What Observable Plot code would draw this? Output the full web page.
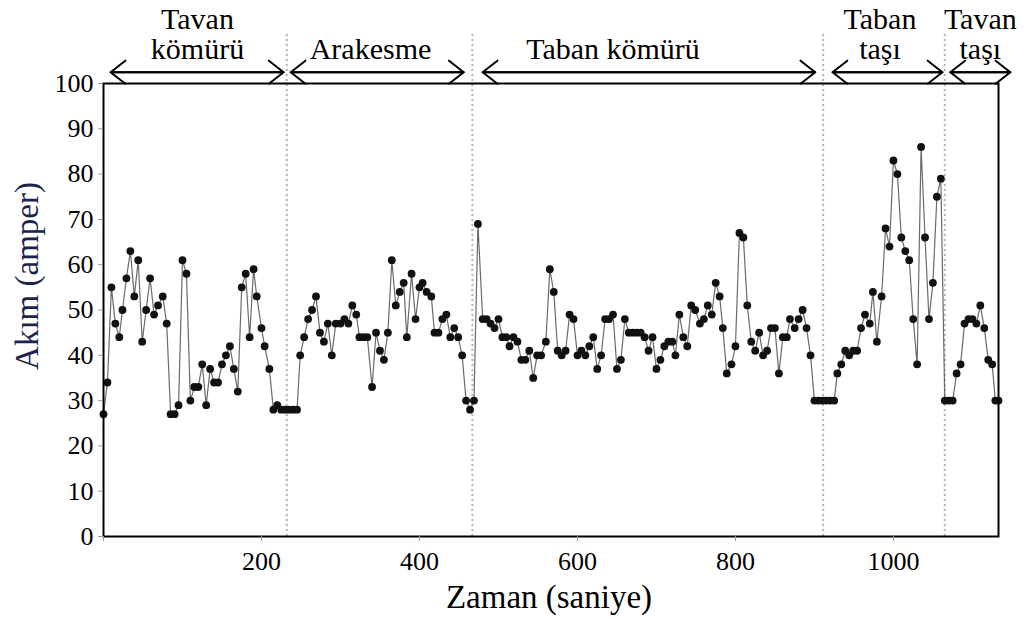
<!DOCTYPE html>
<html><head><meta charset="utf-8">
<script src="https://cdn.jsdelivr.net/npm/d3@7"></script>
<script src="https://cdn.jsdelivr.net/npm/@observablehq/plot@0.6"></script>
<style>body{margin:0;background:#fff}</style>
</head><body><div id="chart"></div>
<script>
// Time (s) and current (A)
const time = [
  0,5,10,15,20,24,29,34,39,44,49,54,59,64,69,75,80,85,90,95,100,105,110,115,120,125,130,135,140,145,150,155,160,165,170,175,180,185,190,194,200,204,210,215,220,225,230,235,240,245,
  249,254,259,264,269,274,279,284,289,294,300,305,310,315,320,324,329,334,340,345,350,355,360,365,370,375,380,384,390,395,400,404,409,415,419,424,429,434,439,444,449,454,459,464,469,
  474,480,485,490,495,500,505,510,514,519,524,529,534,539,544,549,554,560,565,570,575,580,585,590,595,600,605,610,615,620,625,630,635,640,645,650,655,660,665,670,675,680,685,690,695,700,705,710,715,720,724,729,734,739,744,749,755,760,765,770,775,780,784,789,795,800,805,810,815,820,825,830,835,840,845,850,855,860,865,869,875,880,885,890,895,900,905,910,915,920,925,
  929,934,939,944,949,954,959,964,970,974,979,985,990,995,1000,1005,1010,1015,1020,1025,1030,1035,1040,1045,1050,1055,1060,
  1065,1070,1075,1080,1085,1090,1095,1100,1105,1110,1115,1120,1125,1129,1133
];
const current = [
  27,34,55,47,44,50,57,63,53,61,43,50,57,49,51,53,47,27,27,29,61,58,30,33,33,38,29,37,34,34,38,40,42,37,32,55,58,44,59,53,46,42,37,28,29,28,28,28,28,28,
  40,44,48,50,53,45,43,47,40,47,47,48,47,51,49,44,44,44,33,45,41,39,45,61,51,54,56,44,58,48,55,56,54,53,45,45,48,49,44,46,44,40,30,28,30,
  69,48,48,47,46,48,44,44,42,44,43,39,39,41,35,40,40,43,59,54,41,40,41,49,48,40,41,40,42,44,37,40,48,48,49,37,39,48,45,45,45,45,44,41,44,37,39,42,43,43,40,49,44,42,51,50,47,48,51,49,56,53,46,36,38,42,67,66,51,43,41,45,40,41,46,46,36,44,44,48,46,48,50,46,40,30,30,30,30,30,30,
  36,38,41,40,41,41,46,49,47,54,43,53,68,64,83,80,66,63,61,48,38,86,66,48,56,75,79,
  30,30,30,36,38,47,48,48,47,51,46,39,38,30,30
];
const boundaries = [232, 467, 911, 1065];
const regionLabels = ["Tavan\nkömürü", "Arakesme", "Taban kömürü", "Taban\ntaşı", "Tavan\ntaşı"];
const regionCenters = [119, 338, 645, 983, 1110];
const arrowStarts = [9, 237, 480, 923, 1072];
const arrowEnds = [228, 456, 901, 1062, 1148];
const xTicks = [0, 200, 400, 600, 800, 1000];
const yTicks = [0, 10, 20, 30, 40, 50, 60, 70, 80, 90, 100];

const data = time.map((t, i) => ({t, a: current[i]}));
const arrows = arrowStarts.map((s, i) => ({s, e: arrowEnds[i]}));
const regions = regionLabels.map((l, i) => ({l, x: regionCenters[i]}));

const chart = Plot.plot({
  width: 1030, height: 619,
  marginTop: 83, marginBottom: 83, marginLeft: 103, marginRight: 32,
  style: {fontFamily: "'Liberation Serif', 'Times New Roman', serif", fontSize: "26px", color: "#000", background: "#fff", overflow: "visible"},
  x: {domain: [0, 1133]},
  y: {domain: [0, 100]},
  marks: [
    Plot.ruleX(boundaries, {y1: 0, y2: 111.5, stroke: "#b4b4b4", strokeWidth: 2, strokeDasharray: "2,3"}),
    Plot.line(data, {x: "t", y: "a", stroke: "#6a6a6a", strokeWidth: 1.2}),
    Plot.dot(data, {x: "t", y: "a", r: 3.9, fill: "#111", stroke: "none"}),
    Plot.frame({stroke: "#000", strokeWidth: 2}),
    Plot.axisX(xTicks, {tickSize: 5, tickPadding: 10, stroke: "#999", fill: "#000", tickFormat: d => d === 0 ? "" : String(d), label: null, fontSize: 26}),
    Plot.axisY(yTicks, {tickSize: 5, tickPadding: 5, stroke: "#999", fill: "#000", label: null, fontSize: 26}),
    Plot.arrow(arrows, {x1: "s", x2: "e", y1: 102.5, y2: 102.5, stroke: "#000", strokeWidth: 2, headAngle: 76, headLength: 14}),
    Plot.arrow(arrows, {x1: "e", x2: "s", y1: 102.5, y2: 102.5, stroke: "#000", strokeWidth: 2, headAngle: 76, headLength: 14}),
    Plot.text(regions, {x: "x", y: 105.5, text: "l", fontSize: 30, lineAnchor: "bottom", lineHeight: 0.97, fill: "#000"}),
    Plot.text(["Zaman (saniye)"], {text: d => d, frameAnchor: "bottom", textAnchor: "middle", dx: -2, dy: 71, lineAnchor: "bottom", fontSize: 33, fill: "#000"}),
    Plot.text(["Akım (amper)"], {text: d => d, frameAnchor: "left", textAnchor: "middle", dx: -76, dy: -34, rotate: -90, lineAnchor: "middle", fontSize: 33, fill: "#1c2448"})
  ]
});
document.getElementById("chart").appendChild(chart);
</script>
</body></html>
